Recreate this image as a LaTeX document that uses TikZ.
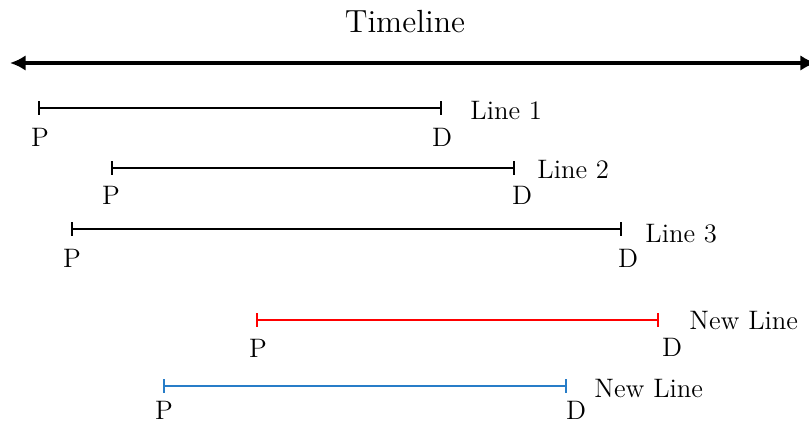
\documentclass[tikz,border=0pt]{standalone}
\usepackage{tikz}
\usetikzlibrary{positioning, arrows.meta}

\definecolor{newblue}{RGB}{40,125,200}

\begin{document}
\begin{tikzpicture}[
            x=0.0158cm, y=-0.0158cm,
            span/.style={{Bar[width=6pt]}-{Bar[width=6pt]}, thick},
            timeline/.style={{Latex[length=7pt,width=7pt]}-{Latex[length=7pt,width=7pt]}, line width=1.5pt},
            endlabel/.style={inner sep=0pt, font=\large},
            linelabel/.style={anchor=west, inner sep=0pt, font=\large}
        ]
            \useasboundingbox (0,0) rectangle (809,422);

            \node [font=\Large] (title) at (405,22) {Timeline};
            \coordinate (tl) at (10,63);
            \coordinate (tr) at (816,63);
            \draw [timeline] (tl) -- (tr);

            % Line 1
            \coordinate (s1) at (38,108);
            \coordinate (e1) at (442,108);
            \draw [span] (s1) -- (e1);
            \node [endlabel] (p1) at (40,137) {P};
            \node [endlabel] (d1) at (442,137) {D};
            \node [linelabel] (l1) at (470,111) {Line 1};

            % Line 2
            \coordinate (s2) at (111,168);
            \coordinate (e2) at (515,168);
            \draw [span] (s2) -- (e2);
            \node [endlabel] (p2) at (111,195) {P};
            \node [endlabel] (d2) at (522,195) {D};
            \node [linelabel] (l2) at (537,170) {Line 2};

            % Line 3
            \coordinate (s3) at (71,229);
            \coordinate (e3) at (622,229);
            \draw [span] (s3) -- (e3);
            \node [endlabel] (p3) at (72,258) {P};
            \node [endlabel] (d3) at (628,258) {D};
            \node [linelabel] (l3) at (645,234) {Line 3};

            % new lines
            \coordinate (s4) at (256,320);
            \coordinate (e4) at (659,320);
            \draw [span, red] (s4) -- (e4);
            \node [endlabel] (p4) at (258,348) {P};
            \node [endlabel] (d4) at (672,347) {D};
            \node [linelabel] (l4) at (689,321) {New Line};

            \coordinate (s5) at (163,386);
            \coordinate (e5) at (567,386);
            \draw [span, newblue] (s5) -- (e5);
            \node [endlabel] (p5) at (164,410) {P};
            \node [endlabel] (d5) at (576,410) {D};
            \node [linelabel] (l5) at (594,389) {New Line};

        \end{tikzpicture}
\end{document}
